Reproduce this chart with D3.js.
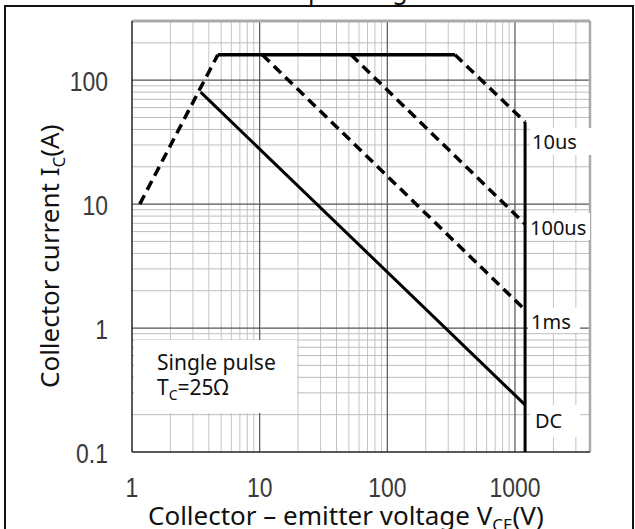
<!DOCTYPE html>
<html><head><meta charset="utf-8">
<script src="https://cdn.jsdelivr.net/npm/d3@7"></script>
<style>
html,body{margin:0;padding:0;background:#fff;overflow:hidden}
svg{display:block}
</style></head>
<body>
<script>
// ---- data ----
const xTickValues = [1, 10, 100, 1000];
const xTickLabels = ["1", "10", "100", "1000"];
const yTickValues = [0.1, 1, 10, 100];
const yTickLabels = ["0.1", "1", "10", "100"];
const seriesNames = ["10us", "100us", "1ms", "DC"];

// envelope pieces (VCE in V, IC in A)
const riseVce = [1.15, 4.7],   riseIc = [10, 160];      // dashed
const flatVce = [4.7, 339],    flatIc = [160, 160];     // solid
const us10Vce = [339, 1200],   us10Ic = [160, 46];      // dashed
const us100Vce = [52, 1200],   us100Ic = [160, 6.9];    // dashed
const ms1Vce = [10.5, 1200],   ms1Ic = [160, 1.4];      // dashed
const dcVce = [3.45, 1200],    dcIc = [80, 0.24];       // solid
const vmaxVce = [1200, 1200],  vmaxIc = [46, 0.1];      // solid

const W = 635, H = 529;
const svg = d3.select("body").append("svg").attr("width", W).attr("height", H);

const L = 132, R = 590, T = 21, B = 452;
const x = d3.scaleLog().domain([1, 3870]).range([L, R]);
const y = d3.scaleLog().domain([0.1, 300]).range([B, T]);

// outer frame
svg.append("rect").attr("x", 5).attr("y", 6).attr("width", 628).attr("height", 560)
  .attr("fill", "none").attr("stroke", "#111").attr("stroke-width", 2);

// title (cut at top)
svg.append("text").attr("x", 236).attr("y", -1)
  .attr("font-family", "Noto Sans").attr("font-size", 25).attr("fill", "#111")
  .text("Safe operating area");

// grid
const minorX = [], minorY = [];
for (let d = 1; d <= 1000; d *= 10) for (let m = 2; m <= 9; m++) { const v = d * m; if (v < 3870) minorX.push(v); }
for (let d = 0.1; d <= 100.1; d *= 10) for (let m = 2; m <= 9; m++) { const v = +(d * m).toPrecision(3); if (v <= 300) minorY.push(v); }

const g = svg.append("g");
g.selectAll(".mx").data(minorX).join("line")
  .attr("x1", d => x(d)).attr("x2", d => x(d)).attr("y1", T).attr("y2", B)
  .attr("stroke", "#c4c4c4").attr("stroke-width", 1);
g.selectAll(".my").data(minorY).join("line")
  .attr("y1", d => y(d)).attr("y2", d => y(d)).attr("x1", L).attr("x2", R)
  .attr("stroke", "#bdbdbd").attr("stroke-width", 1);
g.selectAll(".Mx").data(xTickValues.slice(1)).join("line")
  .attr("x1", d => x(d)).attr("x2", d => x(d)).attr("y1", T).attr("y2", B)
  .attr("stroke", "#555").attr("stroke-width", 1.2);
g.selectAll(".My").data(yTickValues.slice(1)).join("line")
  .attr("y1", d => y(d)).attr("y2", d => y(d)).attr("x1", L).attr("x2", R)
  .attr("stroke", "#555").attr("stroke-width", 1.2);

// plot borders
g.append("line").attr("x1", L).attr("x2", R).attr("y1", T).attr("y2", T).attr("stroke", "#aaa").attr("stroke-width", 3);
g.append("line").attr("x1", R).attr("x2", R).attr("y1", T).attr("y2", B).attr("stroke", "#aaa").attr("stroke-width", 2.5);
g.append("line").attr("x1", L).attr("x2", L).attr("y1", T).attr("y2", B).attr("stroke", "#222").attr("stroke-width", 1.5);
g.append("line").attr("x1", L).attr("x2", R).attr("y1", B).attr("y2", B).attr("stroke", "#222").attr("stroke-width", 1.5);

// lines
const line = d3.line().x(d => x(d[0])).y(d => y(d[1]));
function draw(vs, is, dashed, w) {
  svg.append("path").datum(d3.zip(vs, is)).attr("d", line)
    .attr("fill", "none").attr("stroke", "#000").attr("stroke-width", w)
    .attr("stroke-dasharray", dashed ? "10,6" : null);
}
draw(riseVce, riseIc, true, 3.5);
draw(flatVce, flatIc, false, 3.5);
draw(us10Vce, us10Ic, true, 3.5);
draw(us100Vce, us100Ic, true, 3.5);
draw(ms1Vce, ms1Ic, true, 3.5);
draw(dcVce, dcIc, false, 3);
draw(vmaxVce, vmaxIc, false, 3);

// series labels with white boxes
const boxes = [[530, 128, 63, 27, 532, 149], [527, 213, 63, 27, 530, 235], [528, 308, 52, 25, 531, 329], [530, 405, 50, 32, 535, 428]];
seriesNames.forEach((n, i) => {
  const b = boxes[i];
  svg.append("rect").attr("x", b[0]).attr("y", b[1]).attr("width", b[2]).attr("height", b[3]).attr("fill", "#fff");
  svg.append("text").attr("x", b[4]).attr("y", b[5]).attr("font-family", "Noto Sans").attr("font-size", 20).attr("fill", "#111").text(n);
});

// note box
svg.append("rect").attr("x", 134).attr("y", 340).attr("width", 163).attr("height", 73).attr("fill", "#fff");
svg.append("text").attr("x", 157).attr("y", 370).attr("font-family", "Noto Sans").attr("font-size", 21).attr("fill", "#111").text("Single pulse");
const t2 = svg.append("text").attr("x", 157).attr("y", 395).attr("font-family", "Noto Sans").attr("font-size", 21).attr("fill", "#111");
t2.append("tspan").text("T");
t2.append("tspan").attr("font-size", 14).attr("dy", 5).text("C");
t2.append("tspan").attr("dy", -5).text("=25Ω");

// tick labels
function tickText(px, py, s, anchor) {
  svg.append("text").attr("transform", `translate(${px},${py}) scale(0.85,1)`)
    .attr("text-anchor", anchor).attr("font-family", "Liberation Sans").attr("font-size", 27)
    .attr("fill", "#3a3a3a").text(s);
}
yTickValues.forEach((v, i) => tickText(108, y(v) + 11, yTickLabels[i], "end"));
xTickValues.forEach((v, i) => tickText(x(v), 497, xTickLabels[i], "middle"));

// axis titles
const xt = svg.append("text").attr("x", 148).attr("y", 525).attr("font-family", "Noto Sans").attr("font-size", 26).attr("fill", "#111");
xt.append("tspan").text("Collector \u2013 emitter voltage V");
xt.append("tspan").attr("font-size", 17).attr("dy", 6).text("CE");
xt.append("tspan").attr("dy", -6).text("(V)");

const yt = svg.append("text").attr("transform", "translate(59,388) rotate(-90)").attr("font-family", "Noto Sans").attr("font-size", 26).attr("fill", "#111");
yt.append("tspan").text("Collector current I");
yt.append("tspan").attr("font-size", 17).attr("dy", 6).text("C");
yt.append("tspan").attr("dy", -6).text("(A)");
</script>
</body></html>
